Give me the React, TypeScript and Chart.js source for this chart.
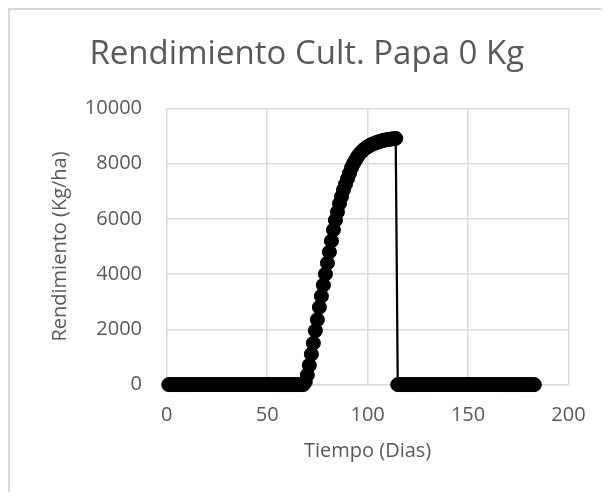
import { useEffect, useRef } from "react";
import { Chart, registerables } from "chart.js";

Chart.register(...registerables);

const chartTitle = "Rendimiento Cult. Papa 0 Kg";
const xAxisTitle = "Tiempo (Dias)";
const yAxisTitle = "Rendimiento (Kg/ha)";
const xTicks = [0, 50, 100, 150, 200];
const yTicks = [0, 2000, 4000, 6000, 8000, 10000];

const days = [
  1, 2, 3, 4, 5, 6, 7, 8, 9, 10, 11, 12, 13, 14, 15, 16, 17, 18, 19, 20,
  21, 22, 23, 24, 25, 26, 27, 28, 29, 30, 31, 32, 33, 34, 35, 36, 37, 38, 39, 40,
  41, 42, 43, 44, 45, 46, 47, 48, 49, 50, 51, 52, 53, 54, 55, 56, 57, 58, 59, 60,
  61, 62, 63, 64, 65, 66, 67, 68, 69, 70, 71, 72, 73, 74, 75, 76, 77, 78, 79, 80,
  81, 82, 83, 84, 85, 86, 87, 88, 89, 90, 91, 92, 93, 94, 95, 96, 97, 98, 99, 100,
  101, 102, 103, 104, 105, 106, 107, 108, 109, 110, 111, 112, 113, 114, 115, 116, 117, 118, 119, 120,
  121, 122, 123, 124, 125, 126, 127, 128, 129, 130, 131, 132, 133, 134, 135, 136, 137, 138, 139, 140,
  141, 142, 143, 144, 145, 146, 147, 148, 149, 150, 151, 152, 153, 154, 155, 156, 157, 158, 159, 160,
  161, 162, 163, 164, 165, 166, 167, 168, 169, 170, 171, 172, 173, 174, 175, 176, 177, 178, 179, 180,
  181, 182, 183,
];

const yieldKgHa = [
  0, 0, 0, 0, 0, 0, 0, 0, 0, 0, 0, 0, 0, 0, 0, 0, 0, 0, 0, 0,
  0, 0, 0, 0, 0, 0, 0, 0, 0, 0, 0, 0, 0, 0, 0, 0, 0, 0, 0, 0,
  0, 0, 0, 0, 0, 0, 0, 0, 0, 0, 0, 0, 0, 0, 0, 0, 0, 0, 0, 0,
  0, 0, 0, 0, 0, 0, 0, 0, 100, 350, 700, 1100, 1500, 1950, 2350, 2800, 3200, 3600, 4000, 4400,
  4800, 5200, 5600, 5950, 6250, 6550, 6800, 7050, 7250, 7450, 7650, 7850, 8000, 8130, 8250, 8350, 8430, 8500, 8560, 8610,
  8650, 8690, 8720, 8750, 8775, 8800, 8820, 8840, 8855, 8870, 8880, 8890, 8900, 8910, 0, 0, 0, 0, 0, 0,
  0, 0, 0, 0, 0, 0, 0, 0, 0, 0, 0, 0, 0, 0, 0, 0, 0, 0, 0, 0,
  0, 0, 0, 0, 0, 0, 0, 0, 0, 0, 0, 0, 0, 0, 0, 0, 0, 0, 0, 0,
  0, 0, 0, 0, 0, 0, 0, 0, 0, 0, 0, 0, 0, 0, 0, 0, 0, 0, 0, 0,
  0, 0, 0,
];

const textColor = "#595959";
const gridColor = "#d9d9d9";
const fontFamily = "'Open Sans', sans-serif";

export default function App() {
  const ref = useRef<HTMLCanvasElement>(null);

  useEffect(() => {
    const canvas = ref.current;
    if (!canvas) return;
    const tickFont = { family: fontFamily, size: 20, weight: "normal" as const };
    const chart = new Chart(canvas, {
      type: "scatter",
      data: {
        datasets: [
          {
            data: days.map((d, i) => ({ x: d, y: yieldKgHa[i] })),
            showLine: true,
            borderColor: "#000000",
            backgroundColor: "#000000",
            borderWidth: 2.25,
            pointRadius: 7,
            pointHoverRadius: 7,
            pointBorderWidth: 1,
            pointBorderColor: "#000000",
            pointBackgroundColor: "#000000",
            clip: false as any,
          },
        ],
      },
      options: {
        animation: false,
        responsive: false,
        events: [],
        layout: { padding: { left: 35, right: 41.5, top: 0, bottom: 0 } },
        plugins: {
          legend: { display: false },
          tooltip: { enabled: false },
          title: {
            display: true,
            text: chartTitle,
            color: textColor,
            font: { family: fontFamily, size: 33, weight: "normal" },
            padding: { top: 25.2, bottom: 33.5 },
          },
        },
        scales: {
          x: {
            type: "linear",
            min: 0,
            max: 200,
            afterBuildTicks: (s: any) => {
              s.ticks = xTicks.map((v) => ({ value: v }));
            },
            afterFit: (s: any) => {
              s.height = 107.4;
            },
            ticks: {
              color: textColor,
              font: tickFont,
              padding: 19,
              maxRotation: 0,
              callback: (v: any) => String(v),
            },
            grid: { color: gridColor, lineWidth: 1.5, drawTicks: false },
            border: { display: false },
            title: {
              display: true,
              text: xAxisTitle,
              color: textColor,
              font: tickFont,
              padding: { top: 0, bottom: 29 },
            },
          },
          y: {
            type: "linear",
            min: 0,
            max: 10000,
            afterBuildTicks: (s: any) => {
              s.ticks = yTicks.map((v) => ({ value: v }));
            },
            afterFit: (s: any) => {
              s.width = 121.7;
            },
            ticks: {
              color: textColor,
              font: tickFont,
              padding: 24.7,
              callback: (v: any) => String(v),
            },
            grid: { color: gridColor, lineWidth: 1.5, drawTicks: false },
            border: { display: false },
            title: {
              display: true,
              text: yAxisTitle,
              color: textColor,
              font: tickFont,
              padding: { top: 3, bottom: 0 },
            },
          },
        },
      },
    });
    return () => chart.destroy();
  }, []);

  return (
    <div
      style={{
        width: 600,
        height: 482,
        borderLeft: "2px solid #d9d9d9",
        borderTop: "2px solid #d9d9d9",
        background: "#ffffff",
        overflow: "hidden",
      }}
    >
      <canvas ref={ref} width={600} height={482} style={{ display: "block" }} />
    </div>
  );
}
